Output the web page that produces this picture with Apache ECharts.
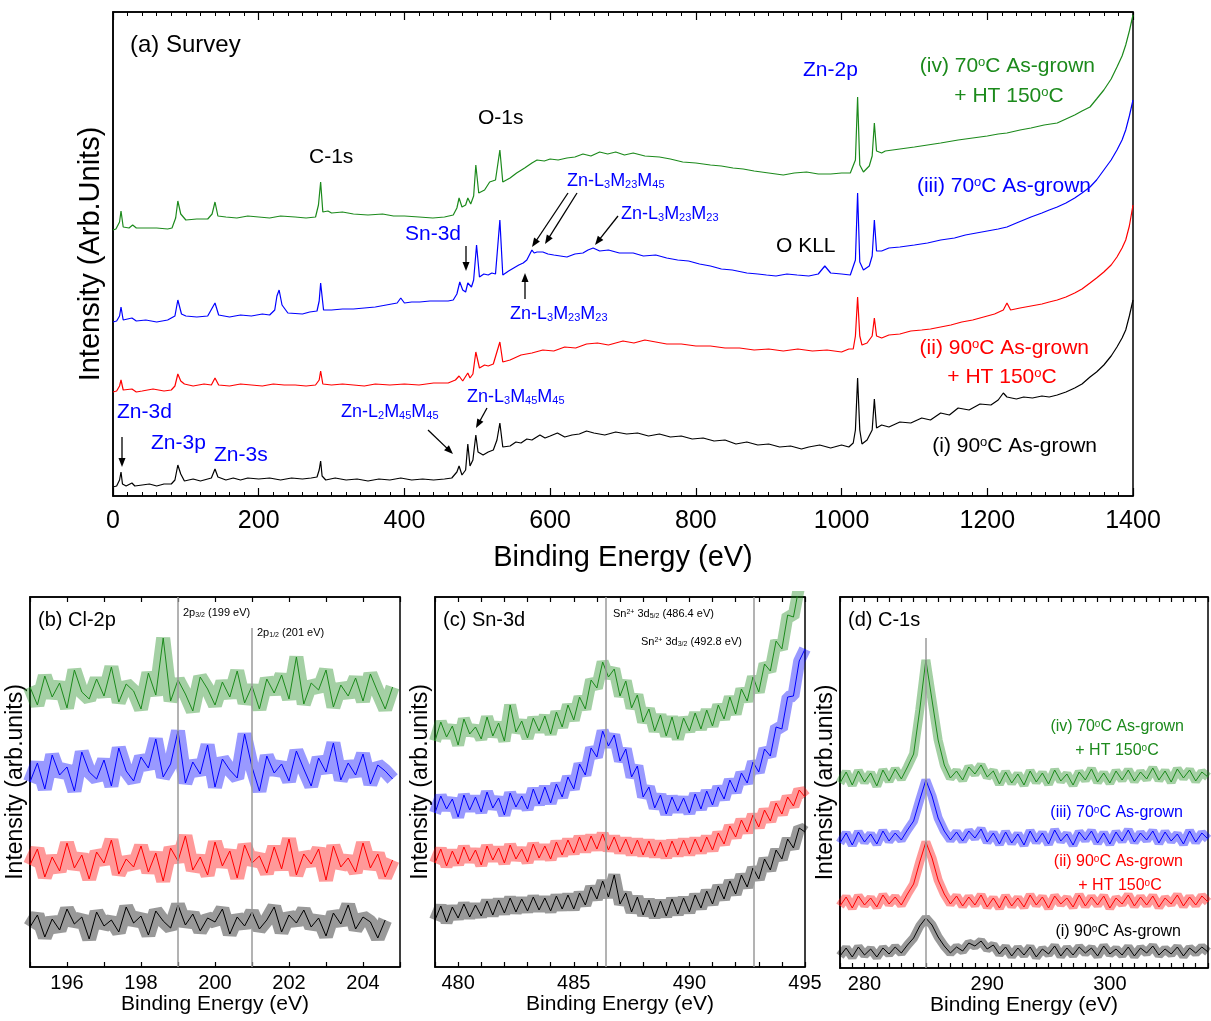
<!DOCTYPE html>
<html>
<head>
<meta charset="utf-8">
<title>XPS spectra</title>
<script src="https://cdn.jsdelivr.net/npm/echarts@6/dist/echarts.min.js"></script>
<style>
  html, body { margin: 0; padding: 0; background: #fff; }
  #main { width: 1211px; height: 1021px; }
</style>
</head>
<body>
<div id="main"></div>
<script>
// ---- (a) survey spectra: [binding energy (eV), offset intensity] ----
var survI = [[0,9],[5,10],[9,16],[11,24],[13,12],[18,10],[26,13],[30,10],[40,11],[50,12],[60,10],[70,12],[80,12],[85,16],[89,31],[93,22],[98,15],[110,17],[120,15],[130,17],[135,18],[140,27],[144,19],[155,16],[165,18],[175,16],[185,18],[200,17],[215,18],[230,16],[245,18],[260,17],[272,18],[280,19],[283,26],[285,35],[287,20],[292,16],[305,18],[320,16],[335,17],[350,15],[365,17],[380,16],[395,18],[410,16],[425,17],[440,16],[455,17],[465,18],[472,24],[475,30],[479,21],[484,26],[487,52],[490,30],[494,36],[498,61],[501,44],[508,41],[515,44],[522,46],[527,56],[531,73],[535,49],[545,50],[553,54],[560,53],[568,57],[575,56],[586,61],[593,58],[600,60],[610,63],[620,59],[630,61],[640,62],[650,65],[660,63],[675,61],[690,64],[705,62],[720,63],[735,60],[750,62],[765,59],[780,60],[795,57],[810,58],[825,55],[840,56],[855,52],[870,54],[885,51],[900,52],[915,49],[930,50],[945,47],[955,49],[970,51],[985,48],[1000,51],[1010,49],[1016,53],[1019,66],[1022,118],[1025,66],[1028,52],[1035,56],[1042,66],[1045,97],[1048,68],[1055,71],[1065,69],[1080,74],[1095,73],[1110,78],[1122,76],[1136,83],[1148,81],[1160,88],[1175,86],[1190,92],[1205,91],[1215,96],[1222,103],[1227,99],[1240,97],[1250,99],[1262,98],[1275,100],[1285,99],[1296,101],[1308,104],[1320,108],[1330,112],[1341,119],[1350,124],[1360,131],[1370,140],[1378,149],[1385,158],[1390,166],[1395,180],[1400,196]];
var survII = [[0,104],[5,105],[9,110],[11,116],[14,106],[26,107],[32,104],[40,105],[55,107],[70,105],[80,106],[85,110],[89,122],[93,115],[98,112],[110,110],[125,112],[135,111],[140,118],[145,111],[160,110],[175,112],[190,111],[205,110],[220,112],[235,111],[250,111],[265,110],[278,111],[283,116],[285,125],[288,112],[300,111],[315,112],[330,111],[345,110],[360,112],[380,111],[400,112],[420,111],[440,113],[460,113],[470,116],[475,120],[480,115],[487,123],[490,118],[494,122],[498,144],[503,128],[510,131],[515,130],[522,132],[531,154],[535,134],[545,136],[560,141],[575,143],[590,146],[605,145],[620,149],[635,148],[650,152],[665,153],[680,151],[700,155],[715,153],[730,156],[745,154],[760,152],[780,152],[800,150],[820,150],[840,148],[860,148],[880,146],[900,147],[920,145],[940,147],[960,145],[980,146],[1000,144],[1010,147],[1016,147],[1019,160],[1022,199],[1025,160],[1028,151],[1035,153],[1042,160],[1045,178],[1048,160],[1055,158],[1065,161],[1080,162],[1095,165],[1110,166],[1122,167],[1136,169],[1150,171],[1165,174],[1180,176],[1195,179],[1210,182],[1222,186],[1227,193],[1232,186],[1245,188],[1260,190],[1275,192],[1285,194],[1296,196],[1308,199],[1320,203],[1330,207],[1341,213],[1350,218],[1360,224],[1370,231],[1378,239],[1385,248],[1390,256],[1395,270],[1400,291]];
var survIII = [[0,174],[5,175],[9,180],[11,189],[14,176],[26,178],[32,175],[45,176],[60,174],[75,176],[85,180],[89,196],[94,182],[100,180],[115,179],[130,180],[140,193],[145,181],[160,179],[175,181],[190,180],[205,182],[215,181],[222,186],[225,200],[228,206],[232,191],[240,183],[260,182],[270,184],[280,185],[283,195],[285,213],[289,186],[300,186],[315,187],[330,187],[345,188],[360,189],[375,191],[390,193],[395,198],[400,193],[410,194],[421,194],[435,195],[450,195],[460,195],[467,196],[472,202],[476,214],[480,206],[484,204],[487,213],[492,209],[495,216],[499,251],[503,219],[509,222],[515,221],[520,223],[525,222],[531,276],[535,221],[543,225],[550,228],[557,231],[563,233],[568,236],[575,246],[578,243],[582,244],[590,244],[597,242],[605,241],[614,240],[623,239],[634,242],[645,243],[652,246],[659,248],[668,245],[680,246],[695,243],[714,243],[728,240],[745,241],[760,238],[775,236],[790,235],[805,232],[820,230],[835,227],[850,226],[870,223],[885,222],[897,221],[910,220],[925,222],[939,221],[955,220],[968,222],[977,230],[985,223],[1000,222],[1012,221],[1019,236],[1022,303],[1025,234],[1030,226],[1038,230],[1042,240],[1045,276],[1048,245],[1055,245],[1065,248],[1080,249],[1100,251],[1118,253],[1136,256],[1155,258],[1170,261],[1185,263],[1200,265],[1215,267],[1227,269],[1240,273],[1250,276],[1260,279],[1275,283],[1285,286],[1296,289],[1308,293],[1320,298],[1330,303],[1341,309],[1350,316],[1360,326],[1370,336],[1378,346],[1385,356],[1390,366],[1395,380],[1400,396]];
var survIV = [[0,266],[4,267],[9,274],[11,285],[14,269],[22,268],[27,271],[32,268],[45,268],[60,268],[75,267],[81,268],[86,278],[89,295],[93,282],[100,276],[115,277],[130,277],[136,282],[140,294],[144,280],[155,279],[170,278],[185,280],[200,279],[215,278],[230,280],[250,279],[265,278],[278,279],[282,291],[285,314],[288,284],[295,285],[300,283],[315,284],[330,282],[350,281],[370,282],[385,280],[400,280],[420,279],[439,278],[455,279],[467,281],[472,288],[475,298],[479,289],[484,291],[487,298],[491,292],[495,300],[498,331],[502,303],[510,306],[517,314],[525,316],[531,346],[535,314],[545,318],[554,323],[565,328],[575,333],[582,336],[592,335],[600,337],[611,336],[623,338],[634,339],[645,342],[656,340],[668,344],[679,342],[690,344],[702,341],[714,343],[730,340],[750,339],[765,337],[782,334],[800,333],[820,331],[835,330],[851,328],[865,327],[880,325],[900,323],[920,321],[935,323],[952,324],[968,322],[985,322],[1000,323],[1012,323],[1019,336],[1022,399],[1025,331],[1030,324],[1038,330],[1042,340],[1045,373],[1048,345],[1055,343],[1060,345],[1080,347],[1100,349],[1118,351],[1136,353],[1160,356],[1180,358],[1200,360],[1215,362],[1227,363],[1245,366],[1260,368],[1278,371],[1296,373],[1308,377],[1320,381],[1330,385],[1341,389],[1350,397],[1360,406],[1370,417],[1378,429],[1385,440],[1390,451],[1395,465],[1400,481]];

// ---- (b) Cl-2p, sampled every 0.2 eV from 195.0 ----
var clStart = 195.0, clStep = 0.2;
var clGreen = [280,262,291,270,284,259,297,275,268,288,271,300,265,283,276,258,294,272,329,266,287,273,256,290,278,262,285,270,296,264,281,258,288,274,292,268,310,263,284,277,297,260,282,271,289,266,293,275,258,280];
var clBlue  = [185,204,178,212,192,200,176,215,195,188,207,181,219,196,186,210,199,228,190,203,236,184,205,193,222,180,208,197,189,233,200,176,211,194,203,186,216,198,181,209,195,224,187,204,192,213,183,202,196,188];
var clRed   = [102,118,90,110,96,124,99,112,88,115,104,127,93,108,100,121,95,114,86,119,106,131,97,110,92,125,101,116,89,122,104,111,94,120,98,128,92,113,103,118,87,121,100,109,95,124,99,113,90,107];
var clBlack = [40,52,30,48,37,58,43,50,28,55,41,47,35,60,44,51,32,56,46,39,62,42,53,36,49,45,58,33,50,41,55,38,47,60,35,52,44,57,40,49,31,54,43,62,38,50,45,29,47];

// ---- (c) Sn-3d, sampled every 0.25 eV from 479 ----
var snStart = 479, snStep = 0.25;
var snGreen = [226,245,230,241,222,248,233,240,228,250,231,244,226,262,235,246,229,249,236,251,233,255,240,262,247,270,258,287,279,305,290,298,271,286,259,272,245,258,236,252,231,250,228,249,236,254,238,257,241,262,248,270,253,278,266,290,275,303,296,326,318,352,350,381,388];
var snBlue  = [154,171,158,168,150,172,157,170,155,175,159,169,152,174,160,171,158,178,163,180,164,183,170,190,178,203,192,219,210,236,221,232,206,218,190,201,170,180,159,172,153,170,156,169,154,173,158,176,162,180,168,187,175,194,184,205,195,218,211,240,238,270,271,306,318];
var snRed   = [104,118,101,116,103,120,106,117,102,121,107,119,104,122,108,118,105,123,109,121,108,125,112,127,114,130,116,131,118,133,117,130,115,128,113,127,112,126,111,125,110,126,112,127,113,128,115,130,117,134,123,141,130,147,135,152,140,157,146,164,153,170,161,177,170];
var snBlack = [47,61,45,60,49,63,50,62,51,66,52,67,54,69,55,68,56,70,57,69,56,71,58,72,58,74,62,80,68,86,70,92,63,74,55,70,52,67,50,66,51,68,53,69,55,72,59,76,63,81,68,86,73,92,80,99,88,108,97,117,108,128,119,139,135];

// ---- (d) C-1s, sampled every 0.5 eV from 278 ----
var c1Start = 278, c1Step = 0.5;
var c1Green = [185,196,183,197,186,195,182,198,187,199,189,201,214,258,308,268,228,203,190,197,188,201,194,203,191,197,184,196,185,194,183,197,186,195,184,198,187,194,183,196,188,199,186,195,185,197,188,198,187,196,189,200,188,197,186,199,190,198,187,196,191];
var c1Blue  = [125,135,123,136,126,134,124,137,127,135,128,138,147,168,188,172,150,137,128,136,127,137,130,139,126,135,124,136,125,134,123,137,126,135,124,138,127,134,123,136,128,137,125,135,124,136,127,138,126,135,128,137,125,136,127,134,124,137,126,135,129];
var c1Red   = [62,71,60,72,63,70,61,73,64,71,63,74,84,106,126,110,88,74,64,72,62,71,63,73,61,70,60,72,62,70,61,73,63,71,60,72,64,70,61,73,62,71,63,72,60,70,64,73,62,71,63,72,61,70,64,73,62,71,63,72,66];
var c1Black = [12,20,11,21,13,19,11,20,14,21,15,23,30,42,50,43,31,22,15,21,17,25,22,27,19,23,14,21,12,20,13,21,11,19,14,22,12,20,13,21,15,20,12,22,14,19,13,21,12,20,15,22,13,19,14,21,12,20,15,21,16];

var FONT = 'Arial, "Liberation Sans", Helvetica, sans-serif';
var GREEN = '#1c8a1c', BLUE = '#0000ff', RED = '#ff0000', BLACK = '#000000';

function sampled(start, step, vals) {
  return vals.map(function (v, i) { return [+(start + i * step).toFixed(3), v]; });
}

function line(name, data, color, xi, yi, width, opacity, extra) {
  var s = {
    name: name, type: 'line', data: data, xAxisIndex: xi, yAxisIndex: yi,
    showSymbol: false, symbol: 'none', silent: true,
    lineStyle: { color: color, width: width, opacity: opacity },
    itemStyle: { color: color }
  };
  if (extra) s.markLine = extra;
  return s;
}

// noisy high-resolution scan: soft band plus thin trace
function scan(name, data, color, xi, yi, band, extra) {
  return [
    line(name + ' band', data, color, xi, yi, band, 0.4),
    line(name, data, color, xi, yi, 1, 1, extra)
  ];
}

function guides(items) {
  return {
    silent: true, symbol: ['none', 'none'], animation: false,
    label: { show: false },
    lineStyle: { color: '#9a9a9a', width: 1.5, type: 'solid', opacity: 1 },
    data: items
  };
}

// text with sub/superscripts
function label(x, y, text, size, color, align) {
  var small = Math.round(size * 0.62);
  return {
    type: 'text', x: x, y: y, z: 100, silent: true,
    style: {
      text: text, fill: color, fontSize: size, fontFamily: FONT,
      align: align || 'left', verticalAlign: 'middle',
      rich: {
        sub: { fontSize: small, fontFamily: FONT, fill: color, verticalAlign: 'bottom' },
        sup: { fontSize: small, fontFamily: FONT, fill: color, verticalAlign: 'top' }
      }
    }
  };
}

function arrow(x1, y1, x2, y2) {
  var a = Math.atan2(y2 - y1, x2 - x1), L = 9, W = 3.5;
  var c = Math.cos(a), s = Math.sin(a);
  return [
    { type: 'line', z: 100, silent: true,
      shape: { x1: x1, y1: y1, x2: x2 - L * 0.7 * c, y2: y2 - L * 0.7 * s },
      style: { stroke: '#000', lineWidth: 1.3 } },
    { type: 'polygon', z: 100, silent: true,
      shape: { points: [[x2, y2], [x2 - L * c + W * s, y2 - L * s - W * c], [x2 - L * c - W * s, y2 - L * s + W * c]] },
      style: { fill: '#000' } }
  ];
}

function xAxisPair(grid, min, max, interval, fmt, fs, nameSize, nameGap, margin, tickLen, minor) {
  var base = {
    gridIndex: grid, type: 'value', min: min, max: max, interval: interval,
    axisLine: { show: true, onZero: false, lineStyle: { color: '#000', width: 1.5 } },
    axisTick: { show: true, inside: true, length: tickLen, lineStyle: { color: '#000', width: 1.2 } },
    splitLine: { show: false }
  };
  if (minor) base.minorTick = { show: true, splitNumber: minor, length: 4, lineStyle: { color: '#000', width: 1 } };
  var bottom = Object.assign({}, base, {
    position: 'bottom',
    axisLabel: { show: true, color: '#000', fontSize: fs, fontFamily: FONT, margin: margin, formatter: fmt },
    name: 'Binding Energy (eV)', nameLocation: 'middle', nameGap: nameGap,
    nameTextStyle: { color: '#000', fontSize: nameSize, fontFamily: FONT }
  });
  var top = Object.assign({}, base, { position: 'top', axisLabel: { show: false } });
  return [bottom, top];
}

function yAxisOf(grid, max, name, size, gap) {
  return {
    gridIndex: grid, type: 'value', min: 0, max: max,
    axisLine: { show: true, lineStyle: { color: '#000', width: 1.5 } },
    axisTick: { show: false }, axisLabel: { show: false }, splitLine: { show: false },
    name: name, nameLocation: 'middle', nameGap: gap,
    nameTextStyle: { color: '#000', fontSize: size, fontFamily: FONT }
  };
}

var frame = { show: true, borderColor: '#000', borderWidth: 1.5, backgroundColor: 'transparent', containLabel: false };

var xAxes = []
  .concat(xAxisPair(0, 0, 1400, 200, function (v) { return String(v); }, 25, 29, 47, 13, 8, 10))
  .concat(xAxisPair(1, 195, 205, 1, function (v) { return v % 2 === 0 ? String(v) : ''; }, 20, 21, 27, 6, 5))
  .concat(xAxisPair(2, 479, 495, 1, function (v) { return v % 5 === 0 ? String(v) : ''; }, 20, 21, 27, 6, 5))
  .concat(xAxisPair(3, 278, 308, 1, function (v) { return v % 10 === 0 ? String(v) : ''; }, 20, 21, 27, 6, 5));

var graphics = [
  label(130, 45, '(a) Survey', 24, BLACK),
  label(309, 157, 'C-1s', 21, BLACK),
  label(478, 118, 'O-1s', 21, BLACK),
  label(405, 234, 'Sn-3d', 21, BLUE),
  label(567, 181, 'Zn-L{sub|3}M{sub|23}M{sub|45}', 18, BLUE),
  label(621, 214, 'Zn-L{sub|3}M{sub|23}M{sub|23}', 18, BLUE),
  label(510, 314, 'Zn-L{sub|3}M{sub|23}M{sub|23}', 18, BLUE),
  label(776, 246, 'O KLL', 21, BLACK),
  label(803, 70, 'Zn-2p', 21, BLUE),
  label(1095, 66, '(iv) 70{sup|o}C As-grown', 21, GREEN, 'right'),
  label(1009, 96, '+ HT 150{sup|o}C', 21, GREEN, 'center'),
  label(1091, 186, '(iii) 70{sup|o}C As-grown', 21, BLUE, 'right'),
  label(1089, 348, '(ii) 90{sup|o}C As-grown', 21, RED, 'right'),
  label(1002, 377, '+ HT 150{sup|o}C', 21, RED, 'center'),
  label(1097, 446, '(i) 90{sup|o}C As-grown', 21, BLACK, 'right'),
  label(117, 412, 'Zn-3d', 21, BLUE),
  label(151, 443, 'Zn-3p', 21, BLUE),
  label(214, 455, 'Zn-3s', 21, BLUE),
  label(341, 412, 'Zn-L{sub|2}M{sub|45}M{sub|45}', 18, BLUE),
  label(467, 397, 'Zn-L{sub|3}M{sub|45}M{sub|45}', 18, BLUE),

  label(38, 620, '(b) Cl-2p', 20, BLACK),
  label(183, 613, '2p{sub|3/2} (199 eV)', 11, BLACK),
  label(257, 633, '2p{sub|1/2} (201 eV)', 11, BLACK),

  label(443, 620, '(c) Sn-3d', 20, BLACK),
  label(613, 614, 'Sn{sup|2+} 3d{sub|5/2} (486.4 eV)', 11, BLACK),
  label(641, 642, 'Sn{sup|2+} 3d{sub|3/2} (492.8 eV)', 11, BLACK),

  label(848, 620, '(d) C-1s', 20, BLACK),
  label(1184, 727, '(iv) 70{sup|o}C As-grown', 16, GREEN, 'right'),
  label(1117, 751, '+ HT 150{sup|o}C', 16, GREEN, 'center'),
  label(1183, 813, '(iii) 70{sup|o}C As-grown', 16, BLUE, 'right'),
  label(1183, 862, '(ii) 90{sup|o}C As-grown', 16, RED, 'right'),
  label(1120, 886, '+ HT 150{sup|o}C', 16, RED, 'center'),
  label(1181, 932, '(i) 90{sup|o}C As-grown', 16, BLACK, 'right')
]
  .concat(arrow(466, 246, 466, 271))
  .concat(arrow(568, 193, 532, 247))
  .concat(arrow(577, 193, 545, 244))
  .concat(arrow(618, 216, 595, 245))
  .concat(arrow(525, 299, 525, 273))
  .concat(arrow(122, 437, 122, 467))
  .concat(arrow(428, 430, 453, 454))
  .concat(arrow(487, 408, 476, 428));

var series = [
  line('(iv) 70°C As-grown + HT 150°C', survIV, GREEN, 0, 0, 1.2, 1),
  line('(iii) 70°C As-grown', survIII, BLUE, 0, 0, 1.2, 1),
  line('(ii) 90°C As-grown + HT 150°C', survII, RED, 0, 0, 1.2, 1),
  line('(i) 90°C As-grown', survI, BLACK, 0, 0, 1.2, 1)
]
  .concat(scan('Cl-2p iv', sampled(clStart, clStep, clGreen), GREEN, 2, 1, 14))
  .concat(scan('Cl-2p iii', sampled(clStart, clStep, clBlue), BLUE, 2, 1, 14))
  .concat(scan('Cl-2p ii', sampled(clStart, clStep, clRed), RED, 2, 1, 14))
  .concat(scan('Cl-2p i', sampled(clStart, clStep, clBlack), BLACK, 2, 1, 14,
    guides([{ xAxis: 199 }, [{ coord: [201, 339] }, { coord: [201, 0] }]])))
  .concat(scan('Sn-3d iv', sampled(snStart, snStep, snGreen), GREEN, 4, 2, 12))
  .concat(scan('Sn-3d iii', sampled(snStart, snStep, snBlue), BLUE, 4, 2, 12))
  .concat(scan('Sn-3d ii', sampled(snStart, snStep, snRed), RED, 4, 2, 12))
  .concat(scan('Sn-3d i', sampled(snStart, snStep, snBlack), BLACK, 4, 2, 12,
    guides([{ xAxis: 486.4 }, { xAxis: 492.8 }])))
  .concat(scan('C-1s iv', sampled(c1Start, c1Step, c1Green), GREEN, 6, 3, 9))
  .concat(scan('C-1s iii', sampled(c1Start, c1Step, c1Blue), BLUE, 6, 3, 9))
  .concat(scan('C-1s ii', sampled(c1Start, c1Step, c1Red), RED, 6, 3, 9))
  .concat(scan('C-1s i', sampled(c1Start, c1Step, c1Black), BLACK, 6, 3, 9,
    guides([[{ coord: [285, 330] }, { coord: [285, 0] }]])));

var option = {
  backgroundColor: '#fff',
  animation: false,
  grid: [
    Object.assign({ left: 113, top: 12, width: 1020, height: 484 }, frame),
    Object.assign({ left: 30, top: 597, width: 370, height: 370 }, frame),
    Object.assign({ left: 435, top: 597, width: 370, height: 370 }, frame),
    Object.assign({ left: 840, top: 597, width: 370, height: 371 }, frame)
  ],
  xAxis: xAxes,
  yAxis: [
    yAxisOf(0, 484, 'Intensity (Arb.Units)', 29, 8),
    yAxisOf(1, 370, 'Intensity (arb.units)', 23, 3),
    yAxisOf(2, 370, 'Intensity (arb.units)', 23, 3),
    yAxisOf(3, 371, 'Intensity (arb.units)', 23, 3)
  ],
  series: series,
  graphic: graphics
};

var chart = echarts.init(document.getElementById('main'), null, { renderer: 'canvas' });
chart.setOption(option);
</script>
</body>
</html>
